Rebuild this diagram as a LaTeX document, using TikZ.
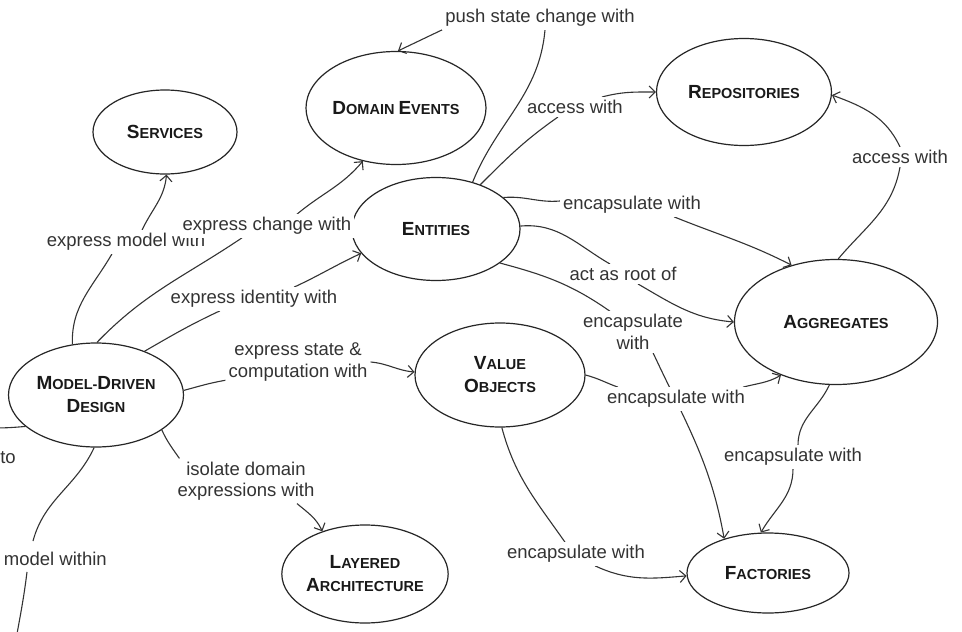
\documentclass[tikz,border=0pt]{standalone}
\usepackage{fontspec}
\setmainfont{Liberation Sans}
\usetikzlibrary{arrows.meta,shapes.geometric,backgrounds}
\newcommand\Tt[2]{{\fontsize{19}{23}\selectfont #1}{\fontsize{14.5}{23}\selectfont #2}}
\begin{document}
\begin{tikzpicture}[x=1pt,y=-1pt,
  concept/.style={ellipse,draw=black!85,line width=1.2pt,inner sep=0pt,
    font=\bfseries\fontsize{14.5}{23}\selectfont,align=center,text=black!90},
  lbl/.style={font=\fontsize{18.5}{21.5}\selectfont,text=black!80,align=center,
    inner sep=3pt,fill=white},
  conn/.style={draw=black!80,line width=1.1pt},
  arr/.style={conn,-{Straight Barb[length=6pt,width=12pt]}}]
\useasboundingbox (0,0) rectangle (962,632);
% concepts
\node[concept,minimum width=144pt,minimum height=84pt] (srv) at (165,132) {\Tt{S}{ERVICES}};
\node[concept,minimum width=180pt,minimum height=113pt] (dev) at (396,108) {\Tt{D}{OMAIN} \Tt{E}{VENTS}};
\node[concept,minimum width=175pt,minimum height=107pt] (rep) at (744,92) {\Tt{R}{EPOSITORIES}};
\node[concept,minimum width=168pt,minimum height=103pt] (ent) at (436,229) {\Tt{E}{NTITIES}};
\node[concept,minimum width=203pt,minimum height=125pt] (agg) at (836,322) {\Tt{A}{GGREGATES}};
\node[concept,minimum width=175pt,minimum height=104pt] (mdd) at (96,395) {\Tt{M}{ODEL}-\Tt{D}{RIVEN}\\\Tt{D}{ESIGN}};
\node[concept,minimum width=170pt,minimum height=104pt] (vo) at (500,375) {\Tt{V}{ALUE}\\\Tt{O}{BJECTS}};
\node[concept,minimum width=154pt,minimum height=98pt] (la) at (365,574) {\Tt{L}{AYERED}\\\Tt{A}{RCHITECTURE}};
\node[concept,minimum width=162pt,minimum height=80pt] (fac) at (768,573) {\Tt{F}{ACTORIES}};
% labels
\node[lbl] (lsrv) at (126,242) {express model with};
\node[lbl] (ldev) at (267,226) {express change with};
\node[lbl] (lent) at (254,299) {express identity with};
\node[lbl] (lvo) at (298,362) {express state \&\\computation with};
\node[lbl] (lla) at (246,481) {isolate domain\\expressions with};
\node[lbl] (lto) at (8,458) {to};
\node[lbl,anchor=east] (lwithin) at (110,559) {model within};
\node[lbl] (lpush) at (540,18) {push state change with};
\node[lbl] (lacc1) at (575,107) {access with};
\node[lbl] (lenc1) at (632,205) {encapsulate with};
\node[lbl] (lroot) at (623,274) {act as root of};
\node[lbl] (lenc2) at (633,332) {encapsulate\\with};
\node[lbl] (lenc3) at (676,399) {encapsulate with};
\node[lbl] (lenc4) at (576,554) {encapsulate with};
\node[lbl] (lenc5) at (793,457) {encapsulate with};
\node[lbl] (lacc2) at (900,157) {access with};
\coordinate (offl) at (-8,428);
\coordinate (offb) at (15,645);
\begin{pgfonlayer}{background}
\fill[white] (0,0) rectangle (962,632);
% Model-Driven Design
\draw[conn] (mdd.115) to[out=92,in=240] ([xshift=-14pt]lsrv.south);
\draw[arr] ([xshift=16pt]lsrv.north) to[out=65,in=-95] (srv.-88);
\draw[conn] (mdd.89) to[out=46,in=214] ([xshift=-25pt]ldev.south);
\draw[arr] ([xshift=30pt]ldev.north) to[out=40,in=230] (dev.238);
\draw[conn] (mdd.42) to[out=30,in=205] ([xshift=-34pt]lent.south);
\draw[arr] ([xshift=40pt]lent.north) to[out=25,in=205] (ent.198);
\draw[conn] (mdd.3) to[out=15,in=190] ([yshift=4pt]lvo.south west);
\draw[arr] (lvo.east) to[out=-5,in=175] (vo.178);
\draw[conn] (mdd.-28) to[out=-65,in=125] ([xshift=5pt]lla.north west);
\draw[arr] ([xshift=51pt]lla.south) to[out=-40,in=115] (la.135);
\draw[conn] (mdd.204) to[out=185,in=0] (offl);
\draw[conn] (mdd.-92) to[out=-115,in=75] ([xshift=-77pt,yshift=8pt]lwithin.north east);
\draw[conn] ([xshift=-83pt,yshift=-3pt]lwithin.south east) to[out=-97,in=80] (offb);
% Entities
\draw[conn] (ent.52) to[out=68,in=-95] ([xshift=5pt]lpush.south);
\draw[arr] (lpush.south west) -- (dev.88);
\draw[conn] (ent.45) to[out=45,in=215] ([xshift=-17pt]lacc1.south);
\draw[arr] ([xshift=27pt]lacc1.north) to[out=15,in=180] (rep.180);
\draw[conn] (ent.25) to[out=5,in=185] ([yshift=4pt]lenc1.west);
\draw[arr] ([xshift=42pt]lenc1.south) to[out=-22,in=153] (agg.128);
\draw[conn] (ent.2) to[out=5,in=150] ([xshift=-13pt]lroot.north);
\draw[arr] ([xshift=15pt]lroot.south) to[out=-30,in=175] (agg.180);
\draw[conn] (ent.-28) to[out=-15,in=145] ([xshift=-23pt]lenc2.north);
\draw[arr] ([xshift=20pt]lenc2.south) to[out=-65,in=100] (fac.142);
% Value Objects
\draw[conn] (vo.0) to[out=-15,in=160] ([xshift=-58pt]lenc3.north);
\draw[arr] ([xshift=67pt]lenc3.north) to[out=15,in=210] (agg.224);
\draw[conn] (vo.-88) to[out=-75,in=125] ([xshift=-11pt]lenc4.north);
\draw[arr] ([xshift=19pt]lenc4.south) to[out=-25,in=185] (fac.182);
% Aggregates
\draw[conn] (agg.-96) to[out=-115,in=90] ([xshift=5pt]lenc5.north);
\draw[arr] (lenc5.south) to[out=-90,in=60] (fac.100);
\draw[conn] (agg.88) to[out=50,in=-100] (lacc2.south);
\draw[arr] (lacc2.north) to[out=115,in=-20] (rep.-2);
\end{pgfonlayer}
\end{tikzpicture}
\end{document}
